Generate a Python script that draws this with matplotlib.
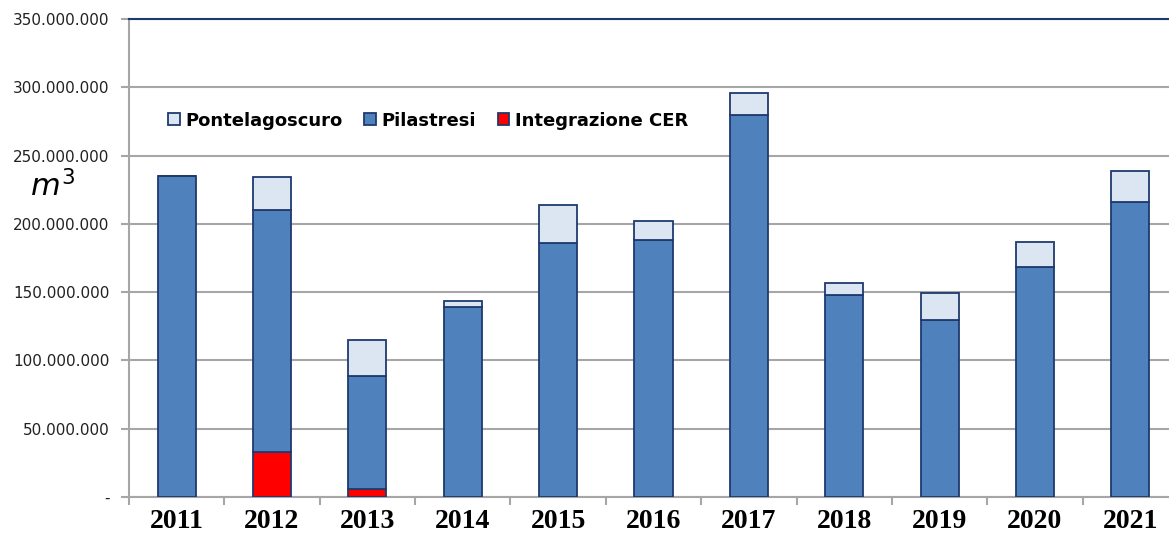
"""
Volumi annui derivati (m3) per presa: Pontelagoscuro, Pilastresi, Integrazione CER.
"""

import matplotlib
matplotlib.use("Agg")
import matplotlib.pyplot as plt
import numpy as np

# Data (millions of m3)
years = ["2011", "2012", "2013", "2014", "2015", "2016", "2017", "2018", "2019", "2020", "2021"]
integrazione_cer = [0.0, 33.0, 6.0, 0.0, 0.0, 0.0, 0.0, 0.0, 0.0, 0.0, 0.0]
pilastresi = [235.0, 177.0, 82.6, 139.0, 186.0, 188.0, 279.7, 148.0, 129.6, 168.4, 215.8]
pontelagoscuro = [0.0, 24.0, 26.4, 4.5, 28.0, 14.0, 16.3, 8.7, 19.8, 18.3, 22.9]
yticks = [0, 50, 100, 150, 200, 250, 300, 350]

RED = "#FF0000"
BLUE = "#4F81BD"
LIGHT = "#DCE6F2"
EDGE = "#1F3A6E"
GRID = "#A6A6A6"

plt.rcParams["mathtext.fontset"] = "dejavusans"

fig = plt.figure(figsize=(11.69, 5.37), dpi=100)
ax = fig.add_axes([129 / 1169, 40 / 537, 1049 / 1169, 478 / 537])

x = np.arange(len(years))
w = 0.4
red = np.array(integrazione_cer) * 1e6
blue = np.array(pilastresi) * 1e6
light = np.array(pontelagoscuro) * 1e6

ax.bar(x, red, w, color=RED, edgecolor=EDGE, linewidth=1.3, label="Integrazione CER", zorder=3)
ax.bar(x, blue, w, bottom=red, color=BLUE, edgecolor=EDGE, linewidth=1.3, label="Pilastresi", zorder=3)
ax.bar(x, light, w, bottom=red + blue, color=LIGHT, edgecolor=EDGE, linewidth=1.3,
       label="Pontelagoscuro", zorder=3)

ax.set_xlim(-0.5, len(years) - 0.5)
ax.set_ylim(0, 350e6)

ax.set_yticks([v * 1e6 for v in yticks])
ax.set_yticklabels(["-"] + [f"{v * 1_000_000:,}".replace(",", ".") for v in yticks[1:]],
                   fontsize=11, color="#222222")
ax.yaxis.grid(True, color=GRID, linewidth=1.5, zorder=0)

# category labels centered, ticks at boundaries
ax.set_xticks(x)
ax.set_xticklabels(years, fontsize=20, fontweight="bold", family="Liberation Serif")
ax.tick_params(axis="x", which="major", length=0, pad=9)
ax.set_xticks(np.arange(len(years) + 1) - 0.5, minor=True)
ax.tick_params(axis="x", which="minor", length=6, color=GRID, width=1.5)
ax.tick_params(axis="y", length=6, color=GRID, width=1.5, pad=8)

for side in ("left", "bottom"):
    ax.spines[side].set_color(GRID)
    ax.spines[side].set_linewidth(1.5)
ax.spines["top"].set_color(EDGE)
ax.spines["top"].set_linewidth(1.5)
ax.spines["right"].set_visible(False)

ax.text(-0.073, 0.65, "$m^3$", transform=ax.transAxes, fontsize=22, ha="center", va="center")

handles, labels = ax.get_legend_handles_labels()
ax.legend(handles[::-1], labels[::-1], loc="upper left", bbox_to_anchor=(0.022, 0.84),
          ncol=3, frameon=False, prop={"weight": "bold", "size": 13},
          handlelength=0.65, handleheight=0.65, handletextpad=0.3, columnspacing=1.2)

fig.savefig("out.png", dpi=100)
